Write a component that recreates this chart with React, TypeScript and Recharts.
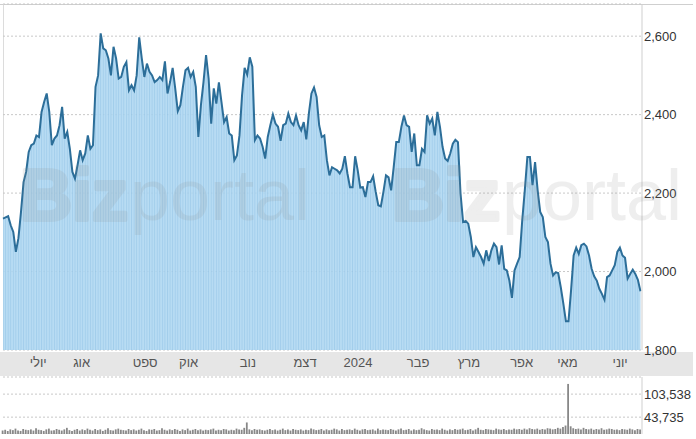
import React from 'react';
import { ComposedChart, Area, Line, Bar, XAxis, YAxis, CartesianGrid } from 'recharts';

const prices = [
  2135, 2138, 2141, 2118, 2101, 2050, 2085, 2152, 2228, 2254,
  2305, 2322, 2326, 2347, 2343, 2407, 2432, 2454, 2407, 2322,
  2339, 2347, 2373, 2420, 2339, 2356, 2313, 2254, 2237, 2271,
  2309, 2284, 2301, 2347, 2313, 2322, 2471, 2500, 2607, 2569,
  2564, 2543, 2500, 2573, 2543, 2492, 2496, 2522, 2534, 2462,
  2475, 2462, 2500, 2597, 2543, 2496, 2530, 2509, 2500, 2483,
  2488, 2496, 2488, 2536, 2454, 2483, 2519, 2467, 2409, 2424,
  2471, 2513, 2519, 2496, 2509, 2471, 2343, 2424, 2483, 2552,
  2492, 2377, 2467, 2428, 2482, 2432, 2381, 2394, 2352, 2347,
  2284, 2296, 2347, 2449, 2519, 2502, 2546, 2522, 2335, 2347,
  2339, 2318, 2288, 2343, 2373, 2400, 2377, 2369, 2333, 2373,
  2377, 2403, 2381, 2373, 2398, 2373, 2360, 2381, 2337, 2403,
  2454, 2469, 2445, 2373, 2343, 2347, 2284, 2245, 2266, 2262,
  2258, 2250, 2262, 2294, 2250, 2215, 2215, 2294, 2258, 2214,
  2215, 2190, 2228, 2228, 2243, 2203, 2169, 2166, 2203, 2245,
  2240, 2207, 2266, 2330, 2330, 2369, 2398, 2373, 2369, 2305,
  2352, 2271, 2271, 2313, 2305, 2398, 2377, 2390, 2347, 2407,
  2369, 2318, 2288, 2282, 2301, 2326, 2336, 2330, 2199, 2126,
  2129, 2122, 2088, 2037, 2062, 2050, 2037, 2020, 2054, 2027,
  2054, 2071, 2062, 2018, 2067, 2007, 2003, 1977, 1933, 2003,
  2020, 2037, 2130, 2207, 2292, 2292, 2220, 2279, 2207, 2152,
  2139, 2088, 2075, 2020, 1990, 1998, 1996, 1960, 1918, 1873,
  1873, 1952, 2041, 2061, 2045, 2067, 2071, 2064, 2041, 2007,
  1988, 1977, 1956, 1943, 1928, 1986, 1990, 2003, 2016, 2050,
  2061, 2041, 2035, 1982, 1994, 2005, 1994, 1979, 1950,
];

const volumesK = [
  9, 11, 8, 12, 10, 14, 9, 8, 13, 11, 10, 12, 9, 15, 11, 10, 8, 12, 14, 9,
  10, 13, 11, 9, 12, 16, 10, 8, 11, 13, 9, 12, 10, 14, 11, 9, 13, 10, 12, 8,
  11, 15, 10, 9, 12, 14, 11, 10, 9, 13, 10, 12, 9, 11, 14, 10, 8, 12, 11, 13,
  9, 10, 15, 11, 9, 12, 10, 13, 11, 8, 12, 10, 14, 9, 11, 13, 10, 12, 9, 11,
  10, 12, 14, 9, 11, 10, 13, 12, 9, 11, 10, 14, 12, 11, 16, 30, 12, 10, 13, 11,
  12, 10, 9, 11, 13, 10, 12, 9, 11, 14, 10, 12, 9, 13, 11, 10, 12, 9, 11, 10,
  14, 12, 10, 11, 13, 9, 12, 10, 11, 14, 12, 9, 13, 10, 11, 12, 10, 14, 11, 9,
  12, 13, 10, 11, 12, 9, 14, 10, 12, 11, 10, 13, 11, 9, 12, 14, 10, 11, 13, 9,
  12, 10, 11, 15, 12, 10, 9, 13, 11, 12, 10, 14, 11, 9, 12, 10, 13, 11, 12, 14,
  10, 11, 13, 9, 12, 16, 11, 10, 13, 12, 11, 10, 14, 12, 11, 13, 10, 12, 11, 14,
  12, 13, 11, 14, 12, 15, 13, 12, 14, 11, 13, 12, 15, 14, 12, 13, 16, 14, 18, 22,
  130, 20, 15, 13, 14, 12, 16, 13, 12, 14, 11, 13, 12, 15, 11, 12, 14, 13, 11, 12,
  10, 13, 12, 11, 14, 12, 10, 13, 12,
];

const monthTicks = [13.7, 30.6, 55.3, 72.2, 95.3, 117.5, 138.1, 161.5, 181.3, 201.8, 219.6, 240.1];
const monthLabels = ['יולי', 'אוג', 'ספט', 'אוק', 'נוב', 'דצמ', '2024', 'פבר', 'מרץ', 'אפר', 'מאי', 'יוני'];
const priceTicks = [1800, 2000, 2200, 2400, 2600];
const volumeTicks = [43735, 103538];

const data = prices.map((p, i) => ({ i, price: p, volume: (volumesK[i] ?? 10) * 1000 }));

const FONT = "Arial, 'Liberation Sans', 'DejaVu Sans', sans-serif";
const fmt = (v: number) => v.toLocaleString('en-US');

function Watermark({ x }: { x: number }) {
  return (
    <g opacity={0.14} fill="#8a8a8a" fontSize={72} fontFamily="'Liberation Sans', Arial, sans-serif">
      <text x={x} y={220} fontWeight="bold" stroke="#8a8a8a" strokeWidth={4} strokeLinejoin="round">Biz</text>
      <text x={x + 110} y={220} fontWeight="normal">portal</text>
    </g>
  );
}

export default function App() {
  return (
    <div style={{ position: 'absolute', left: 0, top: 0, width: 696, height: 439, background: '#fff', overflow: 'hidden', fontFamily: FONT }}>
      <div style={{ position: 'absolute', left: 0, top: 352, width: 693, height: 24, background: '#e6e6e6' }} />
      <div style={{ position: 'absolute', left: 0, top: 4, width: 693, height: 1, background: '#cfcfcf' }} />
      <div style={{ position: 'absolute', left: 3, top: 4, width: 1, height: 346, background: '#dcdcdc' }} />
      <div style={{ position: 'absolute', left: 0, top: 0 }}>
        <ComposedChart width={696} height={376} data={data} margin={{ top: 4, right: 0, bottom: 0, left: 3 }}>
          <defs>
            <pattern id="stripes" patternUnits="userSpaceOnUse" width="2.57" height="10">
              <rect x="0" y="0" width="2.57" height="10" fill="#b0d8f2" />
              <rect x="0" y="0" width="0.9" height="10" fill="#98c8e9" />
            </pattern>
          </defs>
          <CartesianGrid horizontal vertical={false} stroke="#c8c8c8" strokeDasharray="2 2" />
          <XAxis
            dataKey="i"
            type="number"
            domain={[0, 248.6]}
            ticks={monthTicks}
            interval={0}
            tickFormatter={(_v: number, idx: number) => monthLabels[idx]}
            axisLine={false}
            tickLine={false}
            tickSize={0}
            tickMargin={8}
            height={26}
            tick={{ fill: '#555', fontSize: 13, fontFamily: FONT }}
          />
          <YAxis
            orientation="right"
            domain={[1800, 2682]}
            ticks={priceTicks}
            width={54}
            tickFormatter={fmt}
            axisLine={{ stroke: '#cfcfcf' }}
            tickLine={false}
            tickSize={0}
            tickMargin={2}
            tick={{ fill: '#333', fontSize: 13, fontFamily: FONT, textAnchor: 'start' }}
          />
          <Area
            dataKey="price"
            type="linear"
            stroke="none"
            fill="url(#stripes)"
            fillOpacity={0.9}
            isAnimationActive={false}
          />
          <Line
            dataKey="price"
            type="linear"
            stroke="#2c6e99"
            strokeWidth={2}
            dot={false}
            isAnimationActive={false}
          />
        </ComposedChart>
      </div>
      <div style={{ position: 'absolute', left: 0, top: 376 }}>
        <ComposedChart width={696} height={58} data={data} margin={{ top: 1, right: 0, bottom: 0, left: 3 }}>
          <CartesianGrid horizontal vertical={false} stroke="#c8c8c8" strokeDasharray="2 2" />
          <XAxis dataKey="i" type="number" domain={[0, 248.6]} hide />
          <YAxis
            orientation="right"
            domain={[0, 148000]}
            ticks={volumeTicks}
            width={54}
            tickFormatter={fmt}
            axisLine={{ stroke: '#cfcfcf' }}
            tickLine={false}
            tickSize={0}
            tickMargin={2}
            tick={{ fill: '#333', fontSize: 13, fontFamily: FONT, textAnchor: 'start' }}
          />
          <Bar dataKey="volume" fill="#888888" barSize={1.8} isAnimationActive={false} />
        </ComposedChart>
      </div>
      <svg width={696} height={439} style={{ position: 'absolute', left: 0, top: 0, pointerEvents: 'none' }}>
        <Watermark x={20} />
        <Watermark x={392} />
      </svg>
    </div>
  );
}
